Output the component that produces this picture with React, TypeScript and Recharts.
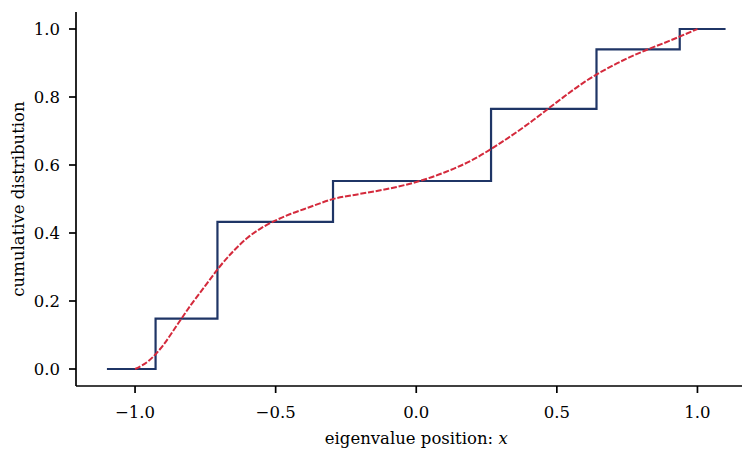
import { LineChart, Line, XAxis, YAxis } from "recharts";

// empirical cumulative distribution (step breakpoints)
const stepX = [-1.1, -0.927, -0.707, -0.296, 0.266, 0.641, 0.937, 1.1];
const stepY = [0.0, 0.148, 0.433, 0.553, 0.765, 0.94, 1.0, 1.0];

// smooth reference curve
const curveX = [
  -1.0, -0.95, -0.9, -0.85, -0.8, -0.75, -0.7, -0.65, -0.6, -0.55, -0.5,
  -0.45, -0.4, -0.35, -0.3, -0.2, -0.1, 0.0, 0.1, 0.2, 0.3, 0.4, 0.5, 0.6,
  0.7, 0.8, 0.9, 1.0,
];
const curveY = [
  0.0, 0.025, 0.07, 0.13, 0.19, 0.245, 0.3, 0.347, 0.386, 0.415, 0.437,
  0.455, 0.47, 0.485, 0.499, 0.515, 0.53, 0.55, 0.578, 0.615, 0.665, 0.722,
  0.785, 0.845, 0.893, 0.932, 0.965, 1.0,
];

const xTicks = [-1, -0.5, 0, 0.5, 1];
const yTicks = [0, 0.2, 0.4, 0.6, 0.8, 1.0];

const stepData = stepX.map((x, i) => ({ x, y: stepY[i] }));
const curveData = curveX.map((x, i) => ({ x, y: curveY[i] }));

const FONT = "'DejaVu Serif', serif";
const fmt = (v: number) => v.toFixed(1).replace("-", "\u2212");

export default function App() {
  return (
    <div style={{ width: 742, height: 441, overflow: "hidden" }}>
      <LineChart
        width={760}
        height={441}
        margin={{ top: 4, right: 11.5, bottom: 0, left: 0 }}
        style={{ fontFamily: FONT }}
      >
        <XAxis
          dataKey="x"
          type="number"
          domain={[-1.21, 1.21]}
          ticks={xTicks}
          tickFormatter={fmt}
          height={63}
          tickSize={7}
          tickMargin={13}
          stroke="#000"
          strokeWidth={1.7}
          tick={{ fill: "#000", fontSize: 16.5, fontFamily: FONT }}
          label={{
            content: (props: any) => {
              const vb = props.viewBox;
              return (
                <text
                  x={vb.x + vb.width / 2}
                  y={436}
                  textAnchor="middle"
                  fontSize={16.5}
                  fontFamily={FONT}
                  fill="#000"
                >
                  eigenvalue position: <tspan fontStyle="italic">x</tspan>
                </text>
              );
            },
          }}
        />
        <XAxis
          xAxisId="top"
          dataKey="x"
          type="number"
          orientation="top"
          domain={[-1.21, 1.21]}
          height={0}
          tick={false}
          tickLine={false}
          stroke="#000"
          strokeWidth={1.7}
        />
        <YAxis
          type="number"
          domain={[-0.05, 1.05]}
          ticks={yTicks}
          tickFormatter={fmt}
          width={68}
          tickSize={7}
          tickMargin={9}
          stroke="#000"
          strokeWidth={1.7}
          tick={{ fill: "#000", fontSize: 16.5, fontFamily: FONT }}
          label={{
            content: (props: any) => {
              const vb = props.viewBox;
              const cy = vb.y + vb.height / 2;
              return (
                <text
                  x={16}
                  y={cy}
                  transform={`rotate(-90, 16, ${cy})`}
                  textAnchor="middle"
                  fontSize={16.5}
                  fontFamily={FONT}
                  fill="#000"
                >
                  cumulative distribution
                </text>
              );
            },
          }}
        />
        <Line
          data={stepData}
          dataKey="y"
          type="stepAfter"
          stroke="#1f3566"
          strokeWidth={2.2}
          dot={false}
          activeDot={false}
          isAnimationActive={false}
        />
        <Line
          data={curveData}
          dataKey="y"
          type="monotone"
          stroke="#d42a3c"
          strokeWidth={2}
          strokeDasharray="6 1.8"
          dot={false}
          activeDot={false}
          isAnimationActive={false}
        />
      </LineChart>
    </div>
  );
}
